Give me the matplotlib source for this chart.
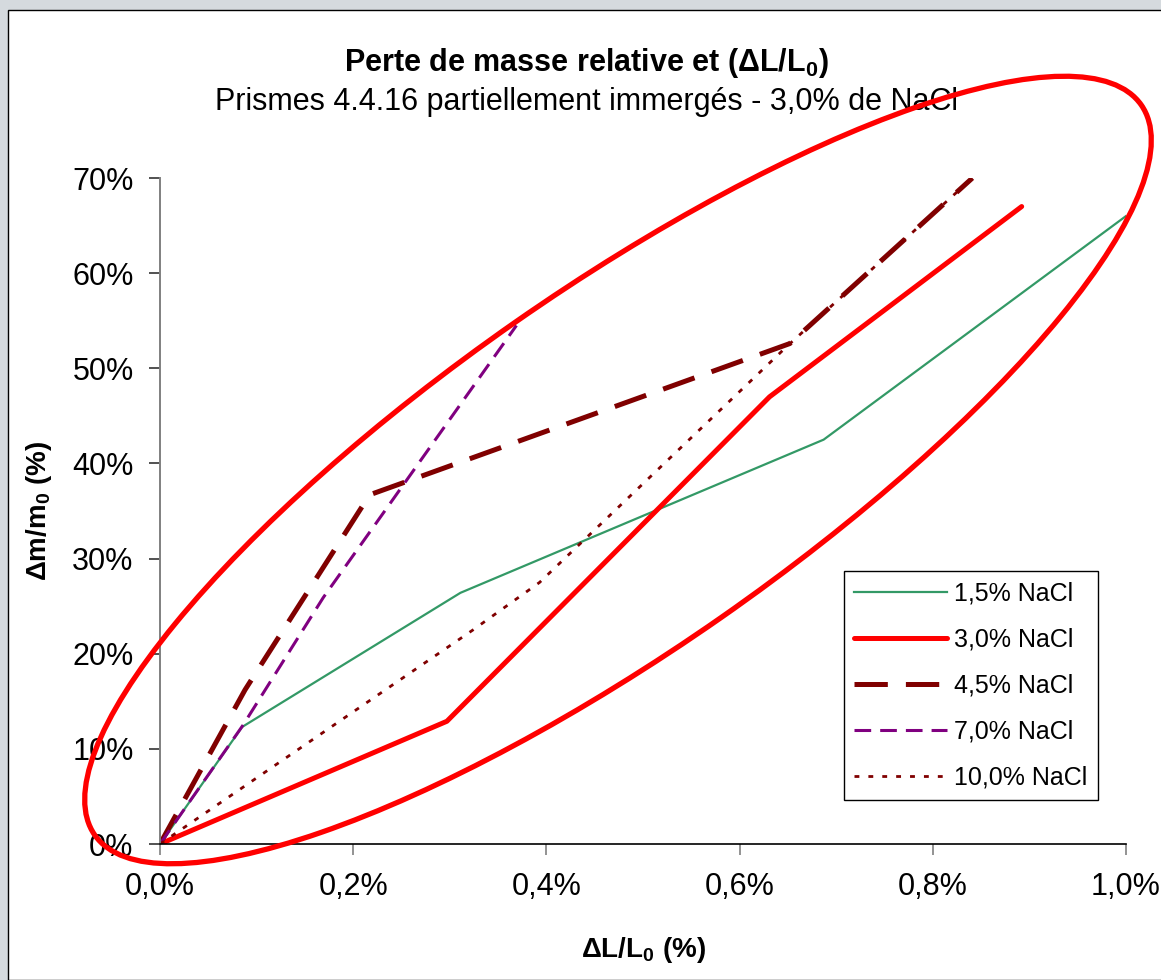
import matplotlib
matplotlib.use('Agg')
import matplotlib.pyplot as plt
from matplotlib.patches import Ellipse, Rectangle
from matplotlib.ticker import FuncFormatter, MultipleLocator
from matplotlib.transforms import IdentityTransform

plt.rcParams['font.family'] = ['Liberation Sans', 'DejaVu Sans']
plt.rcParams['mathtext.fontset'] = 'custom'
plt.rcParams['mathtext.rm'] = 'Liberation Sans'
plt.rcParams['mathtext.bf'] = 'Liberation Sans:bold'
plt.rcParams['lines.scale_dashes'] = False

# elongation (%) vs relative mass loss (%) per NaCl concentration
dl_15 = [0, 0.085, 0.311, 0.687, 1.0]
dm_15 = [0, 12.3, 26.4, 42.5, 66.0]

dl_30 = [0, 0.297, 0.631, 0.892]
dm_30 = [0, 12.9, 47.0, 67.0]

dl_45 = [0, 0.088, 0.217, 0.652, 0.841]
dm_45 = [0, 16.2, 36.7, 52.6, 70.0]

dl_70 = [0, 0.086, 0.169, 0.369]
dm_70 = [0, 12.5, 25.9, 54.5]

dl_100 = [0, 0.324, 0.393, 0.650, 0.841]
dm_100 = [0, 22.5, 27.5, 52.4, 70.0]

labels = ['1,5% NaCl', '3,0% NaCl', '4,5% NaCl', '7,0% NaCl', '10,0% NaCl']

fig = plt.figure(figsize=(11.61, 9.8), dpi=100, facecolor='#d5dade')
fig.patches.append(Rectangle((8 / 1161, 0), 1, 1 - 10 / 980, transform=fig.transFigure,
                             facecolor='white', edgecolor='black', linewidth=1,
                             zorder=-10))

ax = fig.add_axes([160 / 1161, 1 - 844 / 980, 966 / 1161, 666 / 980])

ax.plot(dl_15, dm_15, color='#339966', lw=1.6, label=labels[0])
ax.plot(dl_30, dm_30, color='#ff0000', lw=3.6, solid_capstyle='round', label=labels[1])
ax.plot(dl_45, dm_45, color='#800000', lw=3.6, dashes=(24, 13), label=labels[2])
ax.plot(dl_70, dm_70, color='#800080', lw=2.2, dashes=(12, 6.5), label=labels[3])
ax.plot(dl_100, dm_100, color='#800000', lw=2.0, dashes=(3.5, 6.5), label=labels[4])

ax.set_xlim(0, 1.0)
ax.set_ylim(0, 70)
ax.xaxis.set_major_locator(MultipleLocator(0.2))
ax.yaxis.set_major_locator(MultipleLocator(10))
ax.xaxis.set_major_formatter(FuncFormatter(lambda v, p: f'{v:.1f}%'.replace('.', ',')))
ax.yaxis.set_major_formatter(FuncFormatter(lambda v, p: f'{v:.0f}%'))

for s in ['top', 'right']:
    ax.spines[s].set_visible(False)
ax.spines['left'].set_color('#808080')
ax.spines['left'].set_linewidth(1.4)
ax.spines['bottom'].set_color('black')
ax.spines['bottom'].set_linewidth(1.2)
ax.tick_params(axis='x', direction='out', length=8, width=1.2, color='#808080',
               labelsize=22, pad=12)
ax.tick_params(axis='y', direction='out', length=8, width=1.2, color='#333333',
               labelsize=22, pad=11)

ax.set_xlabel('ΔL/L$_\\mathbf{0}$ (%)', fontsize=20, fontweight='bold', labelpad=24)
ax.set_ylabel('Δm/m$_\\mathbf{0}$ (%)', fontsize=20, fontweight='bold', labelpad=13)

fig.text(0.505, 1 - 63 / 980, 'Perte de masse relative et (ΔL/L$_\\mathbf{0}$)',
         ha='center', va='center', fontsize=22, fontweight='bold')
fig.text(0.505, 1 - 102 / 980, 'Prismes 4.4.16 partiellement immergés - 3,0% de NaCl',
         ha='center', va='center', fontsize=22)

leg = ax.legend(loc='lower left', bbox_to_anchor=(844 / 1161, 1 - 800 / 980),
                bbox_transform=fig.transFigure, fontsize=18, frameon=True,
                fancybox=False, framealpha=1, edgecolor='black',
                handlelength=3.7, handletextpad=0.3, labelspacing=0.88,
                borderpad=0.42, borderaxespad=0)
leg.get_frame().set_linewidth(1.0)

# highlight ring around the curves
ring = Ellipse((618, 980 - 470), 1276, 360, angle=34.9, fill=False,
               edgecolor='#ff0000', linewidth=3.8, transform=IdentityTransform(),
               zorder=5)
fig.patches.append(ring)

fig.savefig('out.png', dpi=100, facecolor=fig.get_facecolor())
